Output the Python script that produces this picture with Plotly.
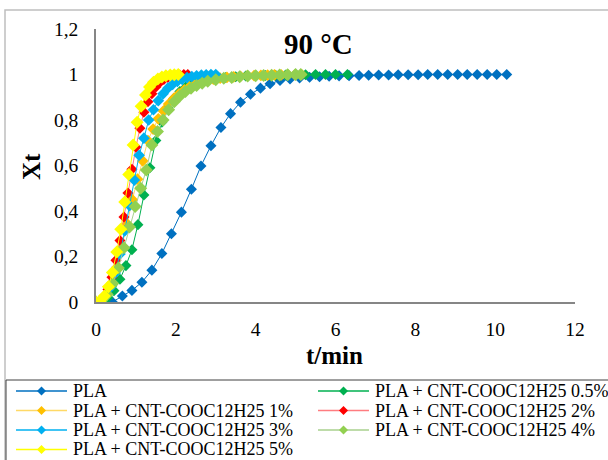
import plotly.graph_objects as go

# crystallization kinetics at 90 °C
names = [
    "PLA",
    "PLA + CNT-COOC12H25 0.5%",
    "PLA + CNT-COOC12H25 1%",
    "PLA + CNT-COOC12H25 2%",
    "PLA + CNT-COOC12H25 3%",
    "PLA + CNT-COOC12H25 4%",
    "PLA + CNT-COOC12H25 5%",
]

t_pla = [0.41, 0.66, 0.90, 1.15, 1.40, 1.65, 1.89, 2.14, 2.39, 2.63, 2.88, 3.13, 3.37, 3.62,
         3.87, 4.12, 4.36, 4.61, 4.86, 5.10, 5.35, 5.60, 5.84, 6.09, 6.34, 6.59, 6.83, 7.08,
         7.33, 7.57, 7.82, 8.07, 8.31, 8.56, 8.81, 9.06, 9.30, 9.55, 9.80, 10.04, 10.29]
x_pla = [0, 0.026, 0.051, 0.087, 0.14, 0.213, 0.30, 0.395, 0.496, 0.598, 0.687, 0.767, 0.828,
         0.878, 0.913, 0.94, 0.959, 0.974, 0.98, 0.985, 0.988, 0.990, 0.992, 0.994, 0.995,
         0.996, 0.997, 0.998, 0.998, 0.999, 0.999, 0.999, 1, 1, 1, 1, 1, 1, 1, 1, 1]

t_05 = [0, 0.15, 0.30, 0.45, 0.60, 0.75, 0.90, 1.05, 1.20, 1.35, 1.50, 1.65, 1.80, 1.95, 2.10,
        2.25, 2.40, 2.55, 2.70, 2.85, 3.00, 3.25, 3.50, 3.75, 4.00, 4.25, 4.50, 4.75, 5.00,
        5.25, 5.50, 5.75, 6.00, 6.30]
x_05 = [0, 0.003, 0.02, 0.05, 0.10, 0.16, 0.23, 0.34, 0.47, 0.59, 0.71, 0.79, 0.855, 0.895,
        0.925, 0.945, 0.958, 0.967, 0.974, 0.979, 0.983, 0.987, 0.990, 0.993, 0.995, 0.996,
        0.997, 0.998, 0.999, 0.999, 1, 1, 1, 1]

t_1 = [0, 0.13, 0.26, 0.39, 0.52, 0.65, 0.78, 0.91, 1.04, 1.17, 1.30, 1.43, 1.56, 1.69, 1.82,
       1.95, 2.08, 2.21, 2.34, 2.47, 2.60, 2.77, 2.94, 3.11, 3.28, 3.45, 3.62, 3.79, 3.96,
       4.13, 4.30, 4.47, 4.64, 4.81, 4.98, 5.15]
x_1 = [0, 0.007, 0.033, 0.082, 0.152, 0.241, 0.343, 0.45, 0.54, 0.62, 0.71, 0.76, 0.805,
       0.84, 0.87, 0.895, 0.915, 0.932, 0.946, 0.957, 0.966, 0.974, 0.980, 0.984, 0.987,
       0.990, 0.992, 0.994, 0.995, 0.996, 0.997, 0.998, 0.998, 0.999, 0.999, 1]

t_2 = [0, 0.1, 0.2, 0.3, 0.4, 0.5, 0.6, 0.7, 0.8, 0.9, 1.0, 1.1, 1.2, 1.3, 1.4, 1.5, 1.6, 1.7,
       1.8, 1.9, 2.0, 2.1, 2.2, 2.3]
x_2 = [0, 0.004, 0.02, 0.055, 0.109, 0.183, 0.27, 0.374, 0.479, 0.583, 0.68, 0.764, 0.834,
       0.88, 0.915, 0.945, 0.965, 0.978, 0.987, 0.993, 0.996, 0.998, 1, 1]

t_3 = [0, 0.12, 0.24, 0.36, 0.48, 0.60, 0.72, 0.84, 0.96, 1.08, 1.20, 1.32, 1.44, 1.56, 1.68,
       1.80, 1.92, 2.04, 2.16, 2.28, 2.40, 2.52, 2.64, 2.76, 2.88, 3.00]
x_3 = [0, 0.004, 0.024, 0.064, 0.127, 0.211, 0.313, 0.424, 0.536, 0.645, 0.72, 0.80, 0.845,
       0.885, 0.915, 0.94, 0.957, 0.97, 0.979, 0.986, 0.991, 0.994, 0.997, 0.999, 1, 1]

t_4 = [0, 0.14, 0.28, 0.42, 0.56, 0.70, 0.84, 0.98, 1.12, 1.26, 1.40, 1.54, 1.68, 1.82, 1.96,
       2.10, 2.24, 2.38, 2.52, 2.66, 2.80, 3.00, 3.20, 3.40, 3.60, 3.80, 4.00, 4.20, 4.40,
       4.60, 4.80, 5.00, 5.13]
x_4 = [0, 0.007, 0.033, 0.081, 0.15, 0.239, 0.33, 0.42, 0.50, 0.58, 0.69, 0.75, 0.80, 0.845,
       0.88, 0.905, 0.925, 0.94, 0.952, 0.962, 0.97, 0.977, 0.983, 0.987, 0.990, 0.993,
       0.995, 0.996, 0.997, 0.998, 0.999, 1, 1]

t_5 = [0, 0.10, 0.21, 0.31, 0.41, 0.52, 0.62, 0.72, 0.82, 0.93, 1.03, 1.13, 1.24, 1.34, 1.44,
       1.55, 1.65, 1.75, 1.86, 1.96, 2.06]
x_5 = [0, 0.004, 0.026, 0.067, 0.13, 0.22, 0.32, 0.44, 0.56, 0.69, 0.79, 0.86, 0.91, 0.945,
       0.966, 0.98, 0.989, 0.995, 0.998, 0.999, 1.0]

series_t = [t_pla, t_05, t_1, t_2, t_3, t_4, t_5]
series_x = [x_pla, x_05, x_1, x_2, x_3, x_4, x_5]

marker_colors = ["#0070C0", "#00B050", "#FFC000", "#FF0000", "#00B0F0", "#92D050", "#FFFF00"]
line_colors = ["#0070C0", "#00B050", "#FFD966", "#FF7C80", "#00B0F0", "#A9D18E", "#FFFF00"]
marker_sizes = [8.5, 8.5, 9, 8.5, 9, 10, 10]

FONT = "Liberation Serif"

# plot area: x 96..575 px, y 29..302 px
W, H = 608, 460
L, R, T, B = 96, 33, 29, 158
pw, ph = W - L - R, H - T - B


def px(xp):
    return (xp - L) / pw


def py(yp):
    return (H - B - yp) / ph


fig = go.Figure()
for name, t, x, mc, lc, ms in zip(names, series_t, series_x, marker_colors, line_colors, marker_sizes):
    fig.add_trace(go.Scatter(
        x=t, y=x, name=name, mode="lines+markers", showlegend=False,
        line=dict(color=lc, width=1),
        marker=dict(symbol="diamond", size=ms, color=mc, line_width=0),
    ))

# legend box drawn by hand: two columns, Excel-like row spacing
shapes = [
    dict(type="rect", xref="paper", yref="paper", x0=px(5), x1=px(612), y0=py(470), y1=py(10),
         line=dict(color="#BFBFBF", width=1.5), layer="below"),
    dict(type="rect", xref="paper", yref="paper", x0=px(6), x1=px(612), y0=py(470), y1=py(380),
         line=dict(color="#404040", width=1), layer="below"),
]
annotations = []
col_x = [16, 318]
row_y = [391, 410.5, 430, 449.5]
for i, (name, mc, lc) in enumerate(zip(names, marker_colors, line_colors)):
    x0 = col_x[i % 2]
    y0 = row_y[i // 2]
    shapes.append(dict(type="line", xref="paper", yref="paper",
                       x0=px(x0), x1=px(x0 + 51), y0=py(y0), y1=py(y0),
                       line=dict(color=lc, width=1.5)))
    cx, d = x0 + 25.5, 4.5
    shapes.append(dict(
        type="path", xref="paper", yref="paper", fillcolor=mc, line=dict(width=0),
        path=f"M {px(cx - d)},{py(y0)} L {px(cx)},{py(y0 - d)} L {px(cx + d)},{py(y0)} "
             f"L {px(cx)},{py(y0 + d)} Z",
    ))
    annotations.append(dict(
        text=name, x=px(x0 + 55), y=py(y0), xref="paper", yref="paper",
        xanchor="left", yanchor="middle", showarrow=False,
        font=dict(family=FONT, size=18, color="black"),
    ))

annotations += [
    dict(text="<b>90 °C</b>", x=px(318), y=py(44), xref="paper", yref="paper",
         xanchor="center", yanchor="middle",
         showarrow=False, font=dict(family=FONT, size=29, color="black")),
    dict(text="<b>Xt</b>", x=px(31), y=py(167), xref="paper", yref="paper", textangle=-90,
         xanchor="center", yanchor="middle",
         showarrow=False, font=dict(family=FONT, size=25, color="black")),
    dict(text="<b>t/min</b>", x=px(334), y=py(355), xref="paper", yref="paper",
         xanchor="center", yanchor="middle",
         showarrow=False, font=dict(family=FONT, size=25, color="black")),
]

fig.update_layout(
    width=W, height=H,
    margin=dict(l=L, r=R, t=T, b=B, autoexpand=False),
    paper_bgcolor="white", plot_bgcolor="white",
    separators=", ",
    font=dict(family=FONT, color="black", size=19),
    showlegend=False,
    shapes=shapes,
    annotations=annotations,
)

fig.update_xaxes(
    range=[0, 12], dtick=2, tick0=0, showgrid=False, zeroline=False,
    showline=True, linecolor="#868686", linewidth=1.5, ticks="",
    ticklabelstandoff=9, tickfont=dict(family=FONT, size=19.5),
)
fig.update_yaxes(
    range=[0, 1.2], dtick=0.2, tick0=0, showgrid=False, zeroline=False,
    showline=True, linecolor="#868686", linewidth=1.5, ticks="",
    ticklabelstandoff=12, tickfont=dict(family=FONT, size=19.5),
)

# the page's default body margin would shift the figure by 8 px
fig.write_html("out.html", config={"displayModeBar": False},
               post_script="document.body.style.margin = '0';")
